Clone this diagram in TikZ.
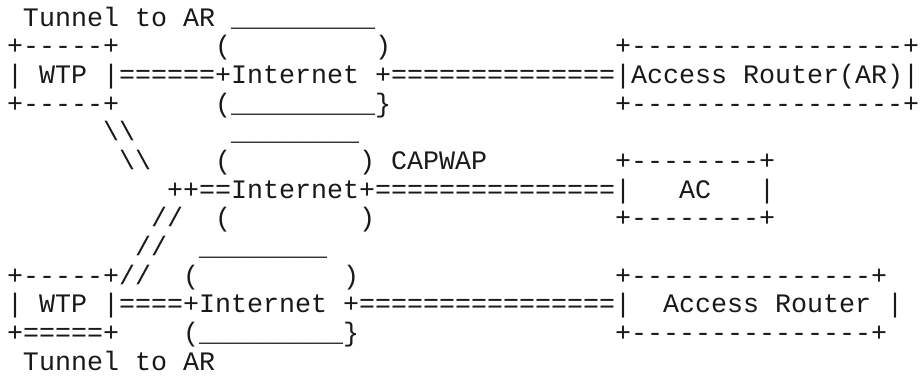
\documentclass[tikz,border=0pt]{standalone}
\usepackage{fontspec}
\setmonofont{Liberation Mono}
\begin{document}
\begin{tikzpicture}[x=16pt, y=-28.6667pt,
  ascii/.style={anchor=base west, inner sep=0pt, outer sep=0pt,
    font=\ttfamily\fontsize{26.667pt}{28.667pt}\selectfont, text=black!90}]
\useasboundingbox[fill=white] (-0.4375,-0.9069) rectangle (57.25,12.4531);
\newcommand\seg[4]{\node[ascii] (#1) at (#2,#3) {#4};}
% row 0
\seg{tunA}{1}{0}{Tunnel~to~AR}
\seg{netAtop}{14}{0}{\_\_\_\_\_\_\_\_\_}
% row 1
\seg{wtpAtop}{0}{1}{+-----+}
\seg{netAl}{13}{1}{(}
\seg{netAr}{23}{1}{)}
\seg{arAtop}{38}{1}{+-----------------+}
% row 2
\seg{wtpAmid}{0}{2}{|~WTP~|======+Internet~+==============}
\seg{arAmid}{38}{2}{|Access~Router(AR)|}
% row 3
\seg{wtpAbot}{0}{3}{+-----+}
\seg{netAbot}{13}{3}{(\_\_\_\_\_\_\_\_\_\}}
\seg{arAbot}{38}{3}{+-----------------+}
% row 4
\seg{slA}{6}{4}{\textbackslash\textbackslash}
\seg{netBtop}{14}{4}{\_\_\_\_\_\_\_\_}
% row 5
\seg{slB}{7}{5}{\textbackslash\textbackslash}
\seg{netBl}{13}{5}{(}
\seg{netBr}{22}{5}{)~CAPWAP}
\seg{acTop}{38}{5}{+--------+}
% row 6
\seg{netBmid}{10}{6}{++==Internet+===============}
\seg{acMid}{38}{6}{|~~~AC~~~|}
% row 7
\seg{slC}{9}{7}{//}
\seg{netBbl}{13}{7}{(}
\seg{netBbr}{22}{7}{)}
\seg{acBot}{38}{7}{+--------+}
% row 8
\seg{slD}{8}{8}{//}
\seg{netCtop}{12}{8}{\_\_\_\_\_\_\_\_}
% row 9
\seg{wtpBtop}{0}{9}{+-----+//}
\seg{netCl}{11}{9}{(}
\seg{netCr}{21}{9}{)}
\seg{arBtop}{38}{9}{+---------------+}
% row 10
\seg{wtpBmid}{0}{10}{|~WTP~|====+Internet~+================}
\seg{arBmid}{38}{10}{|~~Access~Router~|}
% row 11
\seg{wtpBbot}{0}{11}{+=====+}
\seg{netCbot}{11}{11}{(\_\_\_\_\_\_\_\_\_\}}
\seg{arBbot}{38}{11}{+---------------+}
% row 12
\seg{tunB}{1}{12}{Tunnel~to~AR}
\end{tikzpicture}
\end{document}
